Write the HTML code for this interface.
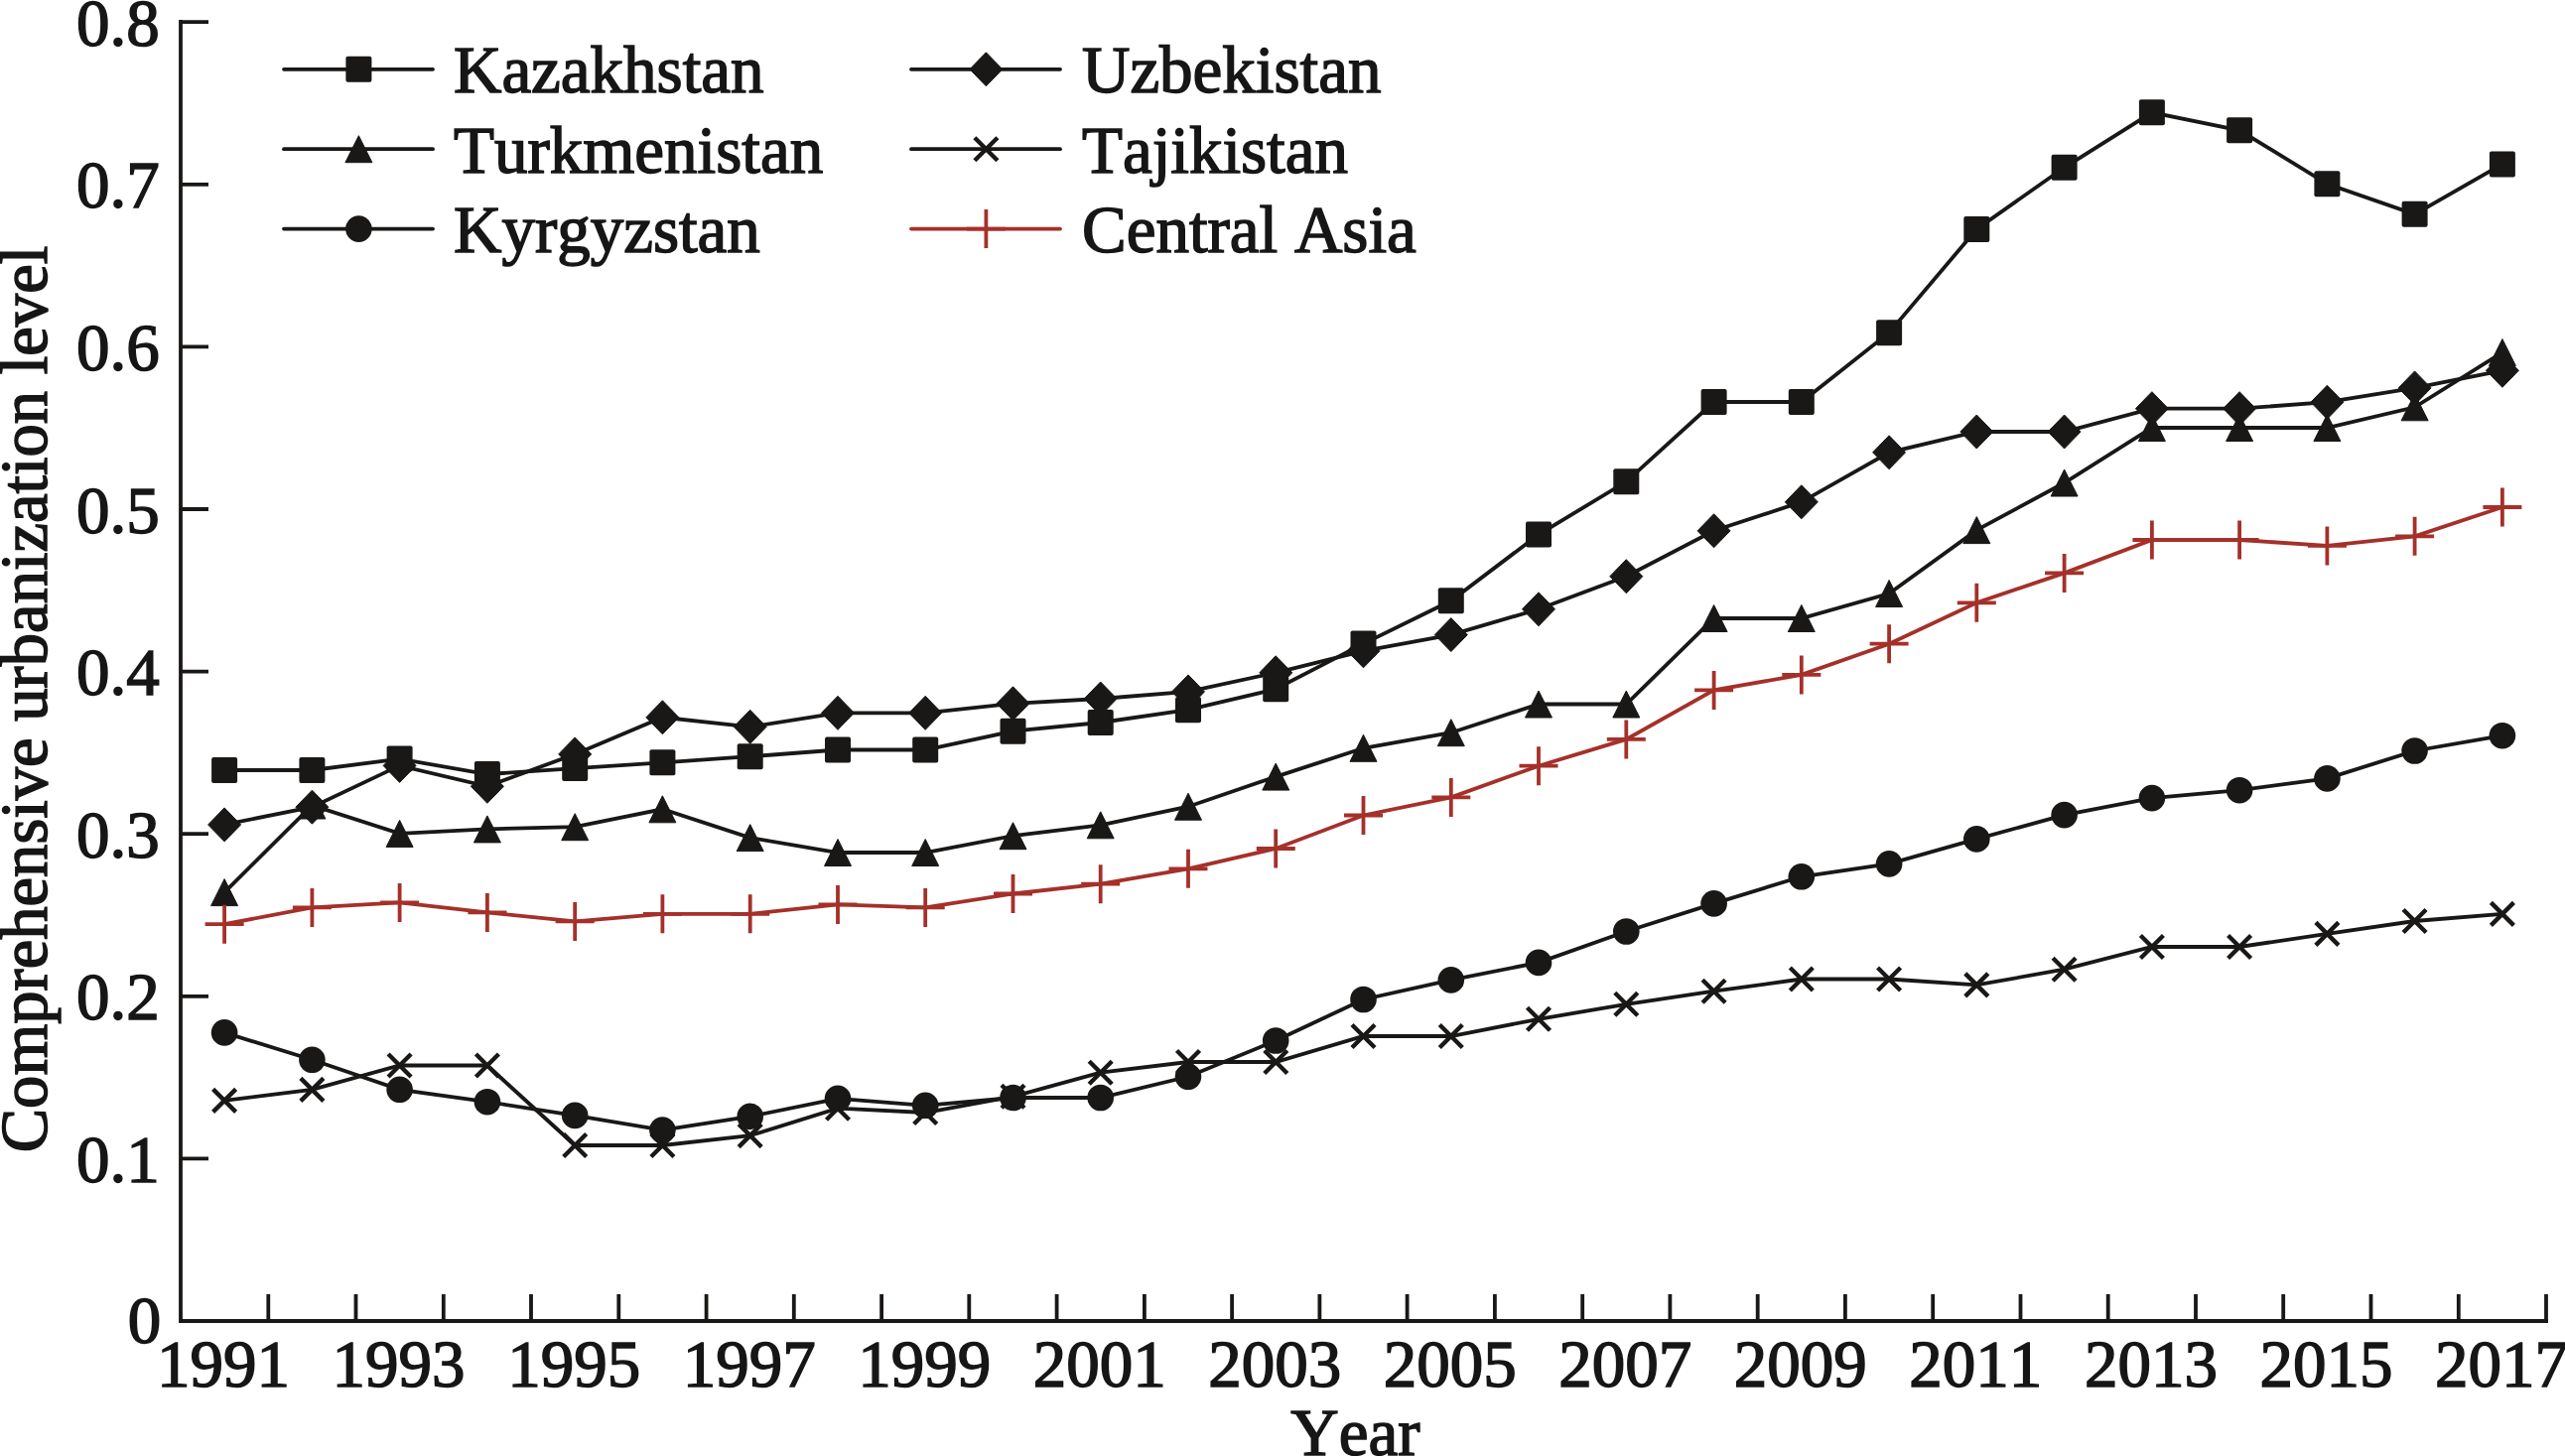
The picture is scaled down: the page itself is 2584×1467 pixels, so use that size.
<!DOCTYPE html>
<html><head><meta charset="utf-8"><style>
html,body{margin:0;padding:0;background:#fff;width:2584px;height:1467px;overflow:hidden}
svg{display:block}
.t{font-family:"Liberation Serif",serif;font-size:67px;fill:#161616;stroke:#161616;stroke-width:1.5px;font-kerning:none}
</style></head><body>
<svg width="2584" height="1467" viewBox="0 0 2584 1467">
<rect width="2584" height="1467" fill="#fff"/>
<path d="M180.1 1331H2567M182 20V1333" stroke="#1a1816" stroke-width="3.8" fill="none"/>
<path d="M182 1167.4H210M182 1003.8H210M182 840.2H210M182 676.6H210M182 513.0H210M182 349.4H210M182 185.8H210M182 22.2H210M270.3 1331V1304M358.5 1331V1304M446.8 1331V1304M535.0 1331V1304M623.3 1331V1304M711.6 1331V1304M799.8 1331V1304M888.1 1331V1304M976.3 1331V1304M1064.6 1331V1304M1152.9 1331V1304M1241.1 1331V1304M1329.4 1331V1304M1417.6 1331V1304M1505.9 1331V1304M1594.2 1331V1304M1682.4 1331V1304M1770.7 1331V1304M1858.9 1331V1304M1947.2 1331V1304M2035.5 1331V1304M2123.7 1331V1304M2212.0 1331V1304M2300.2 1331V1304M2388.5 1331V1304M2476.8 1331V1304M2565.0 1331V1304" stroke="#1a1816" stroke-width="3.8" fill="none"/>
<text x="162.3" y="1353.0" text-anchor="end" class="t">0</text>
<text x="160.8" y="1190.9" text-anchor="end" class="t">0.1</text>
<text x="160.8" y="1027.3" text-anchor="end" class="t">0.2</text>
<text x="160.8" y="863.7" text-anchor="end" class="t">0.3</text>
<text x="160.8" y="700.1" text-anchor="end" class="t">0.4</text>
<text x="160.8" y="536.5" text-anchor="end" class="t">0.5</text>
<text x="160.8" y="372.9" text-anchor="end" class="t">0.6</text>
<text x="160.8" y="209.3" text-anchor="end" class="t">0.7</text>
<text x="160.8" y="45.7" text-anchor="end" class="t">0.8</text>
<text x="225.1" y="1397" text-anchor="middle" class="t">1991</text>
<text x="401.6" y="1397" text-anchor="middle" class="t">1993</text>
<text x="578.2" y="1397" text-anchor="middle" class="t">1995</text>
<text x="754.7" y="1397" text-anchor="middle" class="t">1997</text>
<text x="931.2" y="1397" text-anchor="middle" class="t">1999</text>
<text x="1107.7" y="1397" text-anchor="middle" class="t">2001</text>
<text x="1284.2" y="1397" text-anchor="middle" class="t">2003</text>
<text x="1460.8" y="1397" text-anchor="middle" class="t">2005</text>
<text x="1637.3" y="1397" text-anchor="middle" class="t">2007</text>
<text x="1813.8" y="1397" text-anchor="middle" class="t">2009</text>
<text x="1990.3" y="1397" text-anchor="middle" class="t">2011</text>
<text x="2166.9" y="1397" text-anchor="middle" class="t">2013</text>
<text x="2343.4" y="1397" text-anchor="middle" class="t">2015</text>
<text x="2519.9" y="1397" text-anchor="middle" class="t">2017</text>
<text x="1300.3" y="1465.8" class="t">Year</text>
<text transform="translate(47,1161.3) rotate(-90)" class="t" style="font-size:66.6px">Comprehensive urbanization level</text>
<polyline points="226.1,776.0 314.4,776.0 402.6,764.6 490.9,780.0 579.2,774.1 667.4,768.3 755.7,762.2 844.0,755.5 932.2,755.5 1020.5,736.7 1108.7,728.0 1197.0,715.2 1285.2,694.3 1373.5,648.6 1461.8,605.3 1550.0,538.6 1638.3,485.3 1726.6,405.0 1814.8,405.0 1903.1,335.2 1991.3,230.9 2079.6,168.8 2167.9,113.3 2256.1,131.3 2344.4,185.3 2432.6,215.8 2520.9,165.4" fill="none" stroke="#1a1816" stroke-width="3.8" stroke-linejoin="miter"/>
<polyline points="226.1,830.9 314.4,813.2 402.6,771.4 490.9,792.3 579.2,759.9 667.4,722.8 755.7,732.3 844.0,718.3 932.2,718.3 1020.5,708.8 1108.7,704.0 1197.0,696.9 1285.2,677.8 1373.5,655.8 1461.8,639.6 1550.0,613.8 1638.3,580.7 1726.6,534.8 1814.8,505.8 1903.1,455.8 1991.3,435.0 2079.6,435.0 2167.9,411.7 2256.1,411.7 2344.4,405.2 2432.6,390.9 2520.9,373.3" fill="none" stroke="#1a1816" stroke-width="3.8" stroke-linejoin="miter"/>
<polyline points="226.1,899.1 314.4,811.5 402.6,839.9 490.9,835.4 579.2,833.2 667.4,815.3 755.7,844.1 844.0,859.0 932.2,859.0 1020.5,842.2 1108.7,831.3 1197.0,812.7 1285.2,782.6 1373.5,753.8 1461.8,738.2 1550.0,709.5 1638.3,709.5 1726.6,623.0 1814.8,623.0 1903.1,598.0 1991.3,534.1 2079.6,486.5 2167.9,431.0 2256.1,431.0 2344.4,431.0 2432.6,410.3 2520.9,355.1" fill="none" stroke="#1a1816" stroke-width="3.8" stroke-linejoin="miter"/>
<polyline points="226.1,1108.9 314.4,1097.9 402.6,1073.5 490.9,1073.5 579.2,1154.0 667.4,1154.0 755.7,1144.1 844.0,1116.7 932.2,1121.0 1020.5,1104.8 1108.7,1080.7 1197.0,1070.0 1285.2,1070.0 1373.5,1044.0 1461.8,1044.0 1550.0,1026.8 1638.3,1011.8 1726.6,998.7 1814.8,986.5 1903.1,986.5 1991.3,992.4 2079.6,976.7 2167.9,954.0 2256.1,954.0 2344.4,940.9 2432.6,928.0 2520.9,920.9" fill="none" stroke="#1a1816" stroke-width="3.8" stroke-linejoin="miter"/>
<polyline points="226.1,1040.4 314.4,1067.8 402.6,1097.8 490.9,1110.2 579.2,1123.9 667.4,1138.6 755.7,1124.9 844.0,1106.9 932.2,1113.8 1020.5,1106.0 1108.7,1106.0 1197.0,1084.8 1285.2,1048.5 1373.5,1007.0 1461.8,987.4 1550.0,969.9 1638.3,938.5 1726.6,910.4 1814.8,883.3 1903.1,870.4 1991.3,845.4 2079.6,821.1 2167.9,804.1 2256.1,796.2 2344.4,784.4 2432.6,756.5 2520.9,741.2" fill="none" stroke="#1a1816" stroke-width="3.8" stroke-linejoin="miter"/>
<polyline points="226.1,931.2 314.4,914.4 402.6,909.4 490.9,919.4 579.2,928.4 667.4,920.8 755.7,920.8 844.0,911.4 932.2,914.4 1020.5,900.5 1108.7,890.7 1197.0,875.3 1285.2,855.0 1373.5,821.5 1461.8,803.4 1550.0,771.7 1638.3,744.9 1726.6,695.4 1814.8,679.9 1903.1,648.7 1991.3,607.3 2079.6,577.4 2167.9,544.0 2256.1,544.0 2344.4,549.9 2432.6,540.3 2520.9,511.0" fill="none" stroke="#a5302a" stroke-width="3.8" stroke-linejoin="miter"/>
<rect x="213.1" y="763.0" width="26" height="26" rx="2" fill="#1a1816"/>
<rect x="301.4" y="763.0" width="26" height="26" rx="2" fill="#1a1816"/>
<rect x="389.6" y="751.6" width="26" height="26" rx="2" fill="#1a1816"/>
<rect x="477.9" y="767.0" width="26" height="26" rx="2" fill="#1a1816"/>
<rect x="566.2" y="761.1" width="26" height="26" rx="2" fill="#1a1816"/>
<rect x="654.4" y="755.3" width="26" height="26" rx="2" fill="#1a1816"/>
<rect x="742.7" y="749.2" width="26" height="26" rx="2" fill="#1a1816"/>
<rect x="831.0" y="742.5" width="26" height="26" rx="2" fill="#1a1816"/>
<rect x="919.2" y="742.5" width="26" height="26" rx="2" fill="#1a1816"/>
<rect x="1007.5" y="723.7" width="26" height="26" rx="2" fill="#1a1816"/>
<rect x="1095.7" y="715.0" width="26" height="26" rx="2" fill="#1a1816"/>
<rect x="1184.0" y="702.2" width="26" height="26" rx="2" fill="#1a1816"/>
<rect x="1272.2" y="681.3" width="26" height="26" rx="2" fill="#1a1816"/>
<rect x="1360.5" y="635.6" width="26" height="26" rx="2" fill="#1a1816"/>
<rect x="1448.8" y="592.3" width="26" height="26" rx="2" fill="#1a1816"/>
<rect x="1537.0" y="525.6" width="26" height="26" rx="2" fill="#1a1816"/>
<rect x="1625.3" y="472.3" width="26" height="26" rx="2" fill="#1a1816"/>
<rect x="1713.6" y="392.0" width="26" height="26" rx="2" fill="#1a1816"/>
<rect x="1801.8" y="392.0" width="26" height="26" rx="2" fill="#1a1816"/>
<rect x="1890.1" y="322.2" width="26" height="26" rx="2" fill="#1a1816"/>
<rect x="1978.3" y="217.9" width="26" height="26" rx="2" fill="#1a1816"/>
<rect x="2066.6" y="155.8" width="26" height="26" rx="2" fill="#1a1816"/>
<rect x="2154.9" y="100.3" width="26" height="26" rx="2" fill="#1a1816"/>
<rect x="2243.1" y="118.3" width="26" height="26" rx="2" fill="#1a1816"/>
<rect x="2331.4" y="172.3" width="26" height="26" rx="2" fill="#1a1816"/>
<rect x="2419.6" y="202.8" width="26" height="26" rx="2" fill="#1a1816"/>
<rect x="2507.9" y="152.4" width="26" height="26" rx="2" fill="#1a1816"/>
<path d="M226.1 813.9L242.6 830.9L226.1 847.9L209.6 830.9Z" fill="#1a1816" stroke="#1a1816" stroke-width="1" stroke-linejoin="round"/>
<path d="M314.4 796.2L330.9 813.2L314.4 830.2L297.9 813.2Z" fill="#1a1816" stroke="#1a1816" stroke-width="1" stroke-linejoin="round"/>
<path d="M402.6 754.4L419.1 771.4L402.6 788.4L386.1 771.4Z" fill="#1a1816" stroke="#1a1816" stroke-width="1" stroke-linejoin="round"/>
<path d="M490.9 775.3L507.4 792.3L490.9 809.3L474.4 792.3Z" fill="#1a1816" stroke="#1a1816" stroke-width="1" stroke-linejoin="round"/>
<path d="M579.2 742.9L595.7 759.9L579.2 776.9L562.7 759.9Z" fill="#1a1816" stroke="#1a1816" stroke-width="1" stroke-linejoin="round"/>
<path d="M667.4 705.8L683.9 722.8L667.4 739.8L650.9 722.8Z" fill="#1a1816" stroke="#1a1816" stroke-width="1" stroke-linejoin="round"/>
<path d="M755.7 715.3L772.2 732.3L755.7 749.3L739.2 732.3Z" fill="#1a1816" stroke="#1a1816" stroke-width="1" stroke-linejoin="round"/>
<path d="M844.0 701.3L860.5 718.3L844.0 735.3L827.5 718.3Z" fill="#1a1816" stroke="#1a1816" stroke-width="1" stroke-linejoin="round"/>
<path d="M932.2 701.3L948.7 718.3L932.2 735.3L915.7 718.3Z" fill="#1a1816" stroke="#1a1816" stroke-width="1" stroke-linejoin="round"/>
<path d="M1020.5 691.8L1037.0 708.8L1020.5 725.8L1004.0 708.8Z" fill="#1a1816" stroke="#1a1816" stroke-width="1" stroke-linejoin="round"/>
<path d="M1108.7 687.0L1125.2 704.0L1108.7 721.0L1092.2 704.0Z" fill="#1a1816" stroke="#1a1816" stroke-width="1" stroke-linejoin="round"/>
<path d="M1197.0 679.9L1213.5 696.9L1197.0 713.9L1180.5 696.9Z" fill="#1a1816" stroke="#1a1816" stroke-width="1" stroke-linejoin="round"/>
<path d="M1285.2 660.8L1301.8 677.8L1285.2 694.8L1268.8 677.8Z" fill="#1a1816" stroke="#1a1816" stroke-width="1" stroke-linejoin="round"/>
<path d="M1373.5 638.8L1390.0 655.8L1373.5 672.8L1357.0 655.8Z" fill="#1a1816" stroke="#1a1816" stroke-width="1" stroke-linejoin="round"/>
<path d="M1461.8 622.6L1478.3 639.6L1461.8 656.6L1445.3 639.6Z" fill="#1a1816" stroke="#1a1816" stroke-width="1" stroke-linejoin="round"/>
<path d="M1550.0 596.8L1566.5 613.8L1550.0 630.8L1533.5 613.8Z" fill="#1a1816" stroke="#1a1816" stroke-width="1" stroke-linejoin="round"/>
<path d="M1638.3 563.7L1654.8 580.7L1638.3 597.7L1621.8 580.7Z" fill="#1a1816" stroke="#1a1816" stroke-width="1" stroke-linejoin="round"/>
<path d="M1726.6 517.8L1743.1 534.8L1726.6 551.8L1710.1 534.8Z" fill="#1a1816" stroke="#1a1816" stroke-width="1" stroke-linejoin="round"/>
<path d="M1814.8 488.8L1831.3 505.8L1814.8 522.8L1798.3 505.8Z" fill="#1a1816" stroke="#1a1816" stroke-width="1" stroke-linejoin="round"/>
<path d="M1903.1 438.8L1919.6 455.8L1903.1 472.8L1886.6 455.8Z" fill="#1a1816" stroke="#1a1816" stroke-width="1" stroke-linejoin="round"/>
<path d="M1991.3 418.0L2007.8 435.0L1991.3 452.0L1974.8 435.0Z" fill="#1a1816" stroke="#1a1816" stroke-width="1" stroke-linejoin="round"/>
<path d="M2079.6 418.0L2096.1 435.0L2079.6 452.0L2063.1 435.0Z" fill="#1a1816" stroke="#1a1816" stroke-width="1" stroke-linejoin="round"/>
<path d="M2167.9 394.7L2184.4 411.7L2167.9 428.7L2151.4 411.7Z" fill="#1a1816" stroke="#1a1816" stroke-width="1" stroke-linejoin="round"/>
<path d="M2256.1 394.7L2272.6 411.7L2256.1 428.7L2239.6 411.7Z" fill="#1a1816" stroke="#1a1816" stroke-width="1" stroke-linejoin="round"/>
<path d="M2344.4 388.2L2360.9 405.2L2344.4 422.2L2327.9 405.2Z" fill="#1a1816" stroke="#1a1816" stroke-width="1" stroke-linejoin="round"/>
<path d="M2432.6 373.9L2449.1 390.9L2432.6 407.9L2416.1 390.9Z" fill="#1a1816" stroke="#1a1816" stroke-width="1" stroke-linejoin="round"/>
<path d="M2520.9 356.3L2537.4 373.3L2520.9 390.3L2504.4 373.3Z" fill="#1a1816" stroke="#1a1816" stroke-width="1" stroke-linejoin="round"/>
<path d="M226.1 885.6L239.6 912.6L212.6 912.6Z" fill="#1a1816" stroke="#1a1816" stroke-width="1" stroke-linejoin="round"/>
<path d="M314.4 798.0L327.9 825.0L300.9 825.0Z" fill="#1a1816" stroke="#1a1816" stroke-width="1" stroke-linejoin="round"/>
<path d="M402.6 826.4L416.1 853.4L389.1 853.4Z" fill="#1a1816" stroke="#1a1816" stroke-width="1" stroke-linejoin="round"/>
<path d="M490.9 821.9L504.4 848.9L477.4 848.9Z" fill="#1a1816" stroke="#1a1816" stroke-width="1" stroke-linejoin="round"/>
<path d="M579.2 819.7L592.7 846.7L565.7 846.7Z" fill="#1a1816" stroke="#1a1816" stroke-width="1" stroke-linejoin="round"/>
<path d="M667.4 801.8L680.9 828.8L653.9 828.8Z" fill="#1a1816" stroke="#1a1816" stroke-width="1" stroke-linejoin="round"/>
<path d="M755.7 830.6L769.2 857.6L742.2 857.6Z" fill="#1a1816" stroke="#1a1816" stroke-width="1" stroke-linejoin="round"/>
<path d="M844.0 845.5L857.5 872.5L830.5 872.5Z" fill="#1a1816" stroke="#1a1816" stroke-width="1" stroke-linejoin="round"/>
<path d="M932.2 845.5L945.7 872.5L918.7 872.5Z" fill="#1a1816" stroke="#1a1816" stroke-width="1" stroke-linejoin="round"/>
<path d="M1020.5 828.7L1034.0 855.7L1007.0 855.7Z" fill="#1a1816" stroke="#1a1816" stroke-width="1" stroke-linejoin="round"/>
<path d="M1108.7 817.8L1122.2 844.8L1095.2 844.8Z" fill="#1a1816" stroke="#1a1816" stroke-width="1" stroke-linejoin="round"/>
<path d="M1197.0 799.2L1210.5 826.2L1183.5 826.2Z" fill="#1a1816" stroke="#1a1816" stroke-width="1" stroke-linejoin="round"/>
<path d="M1285.2 769.1L1298.8 796.1L1271.8 796.1Z" fill="#1a1816" stroke="#1a1816" stroke-width="1" stroke-linejoin="round"/>
<path d="M1373.5 740.3L1387.0 767.3L1360.0 767.3Z" fill="#1a1816" stroke="#1a1816" stroke-width="1" stroke-linejoin="round"/>
<path d="M1461.8 724.7L1475.3 751.7L1448.3 751.7Z" fill="#1a1816" stroke="#1a1816" stroke-width="1" stroke-linejoin="round"/>
<path d="M1550.0 696.0L1563.5 723.0L1536.5 723.0Z" fill="#1a1816" stroke="#1a1816" stroke-width="1" stroke-linejoin="round"/>
<path d="M1638.3 696.0L1651.8 723.0L1624.8 723.0Z" fill="#1a1816" stroke="#1a1816" stroke-width="1" stroke-linejoin="round"/>
<path d="M1726.6 609.5L1740.1 636.5L1713.1 636.5Z" fill="#1a1816" stroke="#1a1816" stroke-width="1" stroke-linejoin="round"/>
<path d="M1814.8 609.5L1828.3 636.5L1801.3 636.5Z" fill="#1a1816" stroke="#1a1816" stroke-width="1" stroke-linejoin="round"/>
<path d="M1903.1 584.5L1916.6 611.5L1889.6 611.5Z" fill="#1a1816" stroke="#1a1816" stroke-width="1" stroke-linejoin="round"/>
<path d="M1991.3 520.6L2004.8 547.6L1977.8 547.6Z" fill="#1a1816" stroke="#1a1816" stroke-width="1" stroke-linejoin="round"/>
<path d="M2079.6 473.0L2093.1 500.0L2066.1 500.0Z" fill="#1a1816" stroke="#1a1816" stroke-width="1" stroke-linejoin="round"/>
<path d="M2167.9 417.5L2181.4 444.5L2154.4 444.5Z" fill="#1a1816" stroke="#1a1816" stroke-width="1" stroke-linejoin="round"/>
<path d="M2256.1 417.5L2269.6 444.5L2242.6 444.5Z" fill="#1a1816" stroke="#1a1816" stroke-width="1" stroke-linejoin="round"/>
<path d="M2344.4 417.5L2357.9 444.5L2330.9 444.5Z" fill="#1a1816" stroke="#1a1816" stroke-width="1" stroke-linejoin="round"/>
<path d="M2432.6 396.8L2446.1 423.8L2419.1 423.8Z" fill="#1a1816" stroke="#1a1816" stroke-width="1" stroke-linejoin="round"/>
<path d="M2520.9 341.6L2534.4 368.6L2507.4 368.6Z" fill="#1a1816" stroke="#1a1816" stroke-width="1" stroke-linejoin="round"/>
<path d="M214.6 1097.4L237.6 1120.4M214.6 1120.4L237.6 1097.4" stroke="#1a1816" stroke-width="4.4" fill="none"/>
<path d="M302.9 1086.4L325.9 1109.4M302.9 1109.4L325.9 1086.4" stroke="#1a1816" stroke-width="4.4" fill="none"/>
<path d="M391.1 1062.0L414.1 1085.0M391.1 1085.0L414.1 1062.0" stroke="#1a1816" stroke-width="4.4" fill="none"/>
<path d="M479.4 1062.0L502.4 1085.0M479.4 1085.0L502.4 1062.0" stroke="#1a1816" stroke-width="4.4" fill="none"/>
<path d="M567.7 1142.5L590.7 1165.5M567.7 1165.5L590.7 1142.5" stroke="#1a1816" stroke-width="4.4" fill="none"/>
<path d="M655.9 1142.5L678.9 1165.5M655.9 1165.5L678.9 1142.5" stroke="#1a1816" stroke-width="4.4" fill="none"/>
<path d="M744.2 1132.6L767.2 1155.6M744.2 1155.6L767.2 1132.6" stroke="#1a1816" stroke-width="4.4" fill="none"/>
<path d="M832.5 1105.2L855.5 1128.2M832.5 1128.2L855.5 1105.2" stroke="#1a1816" stroke-width="4.4" fill="none"/>
<path d="M920.7 1109.5L943.7 1132.5M920.7 1132.5L943.7 1109.5" stroke="#1a1816" stroke-width="4.4" fill="none"/>
<path d="M1009.0 1093.3L1032.0 1116.3M1009.0 1116.3L1032.0 1093.3" stroke="#1a1816" stroke-width="4.4" fill="none"/>
<path d="M1097.2 1069.2L1120.2 1092.2M1097.2 1092.2L1120.2 1069.2" stroke="#1a1816" stroke-width="4.4" fill="none"/>
<path d="M1185.5 1058.5L1208.5 1081.5M1185.5 1081.5L1208.5 1058.5" stroke="#1a1816" stroke-width="4.4" fill="none"/>
<path d="M1273.8 1058.5L1296.8 1081.5M1273.8 1081.5L1296.8 1058.5" stroke="#1a1816" stroke-width="4.4" fill="none"/>
<path d="M1362.0 1032.5L1385.0 1055.5M1362.0 1055.5L1385.0 1032.5" stroke="#1a1816" stroke-width="4.4" fill="none"/>
<path d="M1450.3 1032.5L1473.3 1055.5M1450.3 1055.5L1473.3 1032.5" stroke="#1a1816" stroke-width="4.4" fill="none"/>
<path d="M1538.5 1015.3L1561.5 1038.3M1538.5 1038.3L1561.5 1015.3" stroke="#1a1816" stroke-width="4.4" fill="none"/>
<path d="M1626.8 1000.3L1649.8 1023.3M1626.8 1023.3L1649.8 1000.3" stroke="#1a1816" stroke-width="4.4" fill="none"/>
<path d="M1715.1 987.2L1738.1 1010.2M1715.1 1010.2L1738.1 987.2" stroke="#1a1816" stroke-width="4.4" fill="none"/>
<path d="M1803.3 975.0L1826.3 998.0M1803.3 998.0L1826.3 975.0" stroke="#1a1816" stroke-width="4.4" fill="none"/>
<path d="M1891.6 975.0L1914.6 998.0M1891.6 998.0L1914.6 975.0" stroke="#1a1816" stroke-width="4.4" fill="none"/>
<path d="M1979.8 980.9L2002.8 1003.9M1979.8 1003.9L2002.8 980.9" stroke="#1a1816" stroke-width="4.4" fill="none"/>
<path d="M2068.1 965.2L2091.1 988.2M2068.1 988.2L2091.1 965.2" stroke="#1a1816" stroke-width="4.4" fill="none"/>
<path d="M2156.4 942.5L2179.4 965.5M2156.4 965.5L2179.4 942.5" stroke="#1a1816" stroke-width="4.4" fill="none"/>
<path d="M2244.6 942.5L2267.6 965.5M2244.6 965.5L2267.6 942.5" stroke="#1a1816" stroke-width="4.4" fill="none"/>
<path d="M2332.9 929.4L2355.9 952.4M2332.9 952.4L2355.9 929.4" stroke="#1a1816" stroke-width="4.4" fill="none"/>
<path d="M2421.1 916.5L2444.1 939.5M2421.1 939.5L2444.1 916.5" stroke="#1a1816" stroke-width="4.4" fill="none"/>
<path d="M2509.4 909.4L2532.4 932.4M2509.4 932.4L2532.4 909.4" stroke="#1a1816" stroke-width="4.4" fill="none"/>
<circle cx="226.1" cy="1040.4" r="13.3" fill="#1a1816"/>
<circle cx="314.4" cy="1067.8" r="13.3" fill="#1a1816"/>
<circle cx="402.6" cy="1097.8" r="13.3" fill="#1a1816"/>
<circle cx="490.9" cy="1110.2" r="13.3" fill="#1a1816"/>
<circle cx="579.2" cy="1123.9" r="13.3" fill="#1a1816"/>
<circle cx="667.4" cy="1138.6" r="13.3" fill="#1a1816"/>
<circle cx="755.7" cy="1124.9" r="13.3" fill="#1a1816"/>
<circle cx="844.0" cy="1106.9" r="13.3" fill="#1a1816"/>
<circle cx="932.2" cy="1113.8" r="13.3" fill="#1a1816"/>
<circle cx="1020.5" cy="1106.0" r="13.3" fill="#1a1816"/>
<circle cx="1108.7" cy="1106.0" r="13.3" fill="#1a1816"/>
<circle cx="1197.0" cy="1084.8" r="13.3" fill="#1a1816"/>
<circle cx="1285.2" cy="1048.5" r="13.3" fill="#1a1816"/>
<circle cx="1373.5" cy="1007.0" r="13.3" fill="#1a1816"/>
<circle cx="1461.8" cy="987.4" r="13.3" fill="#1a1816"/>
<circle cx="1550.0" cy="969.9" r="13.3" fill="#1a1816"/>
<circle cx="1638.3" cy="938.5" r="13.3" fill="#1a1816"/>
<circle cx="1726.6" cy="910.4" r="13.3" fill="#1a1816"/>
<circle cx="1814.8" cy="883.3" r="13.3" fill="#1a1816"/>
<circle cx="1903.1" cy="870.4" r="13.3" fill="#1a1816"/>
<circle cx="1991.3" cy="845.4" r="13.3" fill="#1a1816"/>
<circle cx="2079.6" cy="821.1" r="13.3" fill="#1a1816"/>
<circle cx="2167.9" cy="804.1" r="13.3" fill="#1a1816"/>
<circle cx="2256.1" cy="796.2" r="13.3" fill="#1a1816"/>
<circle cx="2344.4" cy="784.4" r="13.3" fill="#1a1816"/>
<circle cx="2432.6" cy="756.5" r="13.3" fill="#1a1816"/>
<circle cx="2520.9" cy="741.2" r="13.3" fill="#1a1816"/>
<path d="M206.6 931.2H245.6M226.1 911.7V950.7" stroke="#a5302a" stroke-width="3.8" fill="none"/>
<path d="M294.9 914.4H333.9M314.4 894.9V933.9" stroke="#a5302a" stroke-width="3.8" fill="none"/>
<path d="M383.1 909.4H422.1M402.6 889.9V928.9" stroke="#a5302a" stroke-width="3.8" fill="none"/>
<path d="M471.4 919.4H510.4M490.9 899.9V938.9" stroke="#a5302a" stroke-width="3.8" fill="none"/>
<path d="M559.7 928.4H598.7M579.2 908.9V947.9" stroke="#a5302a" stroke-width="3.8" fill="none"/>
<path d="M647.9 920.8H686.9M667.4 901.3V940.3" stroke="#a5302a" stroke-width="3.8" fill="none"/>
<path d="M736.2 920.8H775.2M755.7 901.3V940.3" stroke="#a5302a" stroke-width="3.8" fill="none"/>
<path d="M824.5 911.4H863.5M844.0 891.9V930.9" stroke="#a5302a" stroke-width="3.8" fill="none"/>
<path d="M912.7 914.4H951.7M932.2 894.9V933.9" stroke="#a5302a" stroke-width="3.8" fill="none"/>
<path d="M1001.0 900.5H1040.0M1020.5 881.0V920.0" stroke="#a5302a" stroke-width="3.8" fill="none"/>
<path d="M1089.2 890.7H1128.2M1108.7 871.2V910.2" stroke="#a5302a" stroke-width="3.8" fill="none"/>
<path d="M1177.5 875.3H1216.5M1197.0 855.8V894.8" stroke="#a5302a" stroke-width="3.8" fill="none"/>
<path d="M1265.8 855.0H1304.8M1285.2 835.5V874.5" stroke="#a5302a" stroke-width="3.8" fill="none"/>
<path d="M1354.0 821.5H1393.0M1373.5 802.0V841.0" stroke="#a5302a" stroke-width="3.8" fill="none"/>
<path d="M1442.3 803.4H1481.3M1461.8 783.9V822.9" stroke="#a5302a" stroke-width="3.8" fill="none"/>
<path d="M1530.5 771.7H1569.5M1550.0 752.2V791.2" stroke="#a5302a" stroke-width="3.8" fill="none"/>
<path d="M1618.8 744.9H1657.8M1638.3 725.4V764.4" stroke="#a5302a" stroke-width="3.8" fill="none"/>
<path d="M1707.1 695.4H1746.1M1726.6 675.9V714.9" stroke="#a5302a" stroke-width="3.8" fill="none"/>
<path d="M1795.3 679.9H1834.3M1814.8 660.4V699.4" stroke="#a5302a" stroke-width="3.8" fill="none"/>
<path d="M1883.6 648.7H1922.6M1903.1 629.2V668.2" stroke="#a5302a" stroke-width="3.8" fill="none"/>
<path d="M1971.8 607.3H2010.8M1991.3 587.8V626.8" stroke="#a5302a" stroke-width="3.8" fill="none"/>
<path d="M2060.1 577.4H2099.1M2079.6 557.9V596.9" stroke="#a5302a" stroke-width="3.8" fill="none"/>
<path d="M2148.4 544.0H2187.4M2167.9 524.5V563.5" stroke="#a5302a" stroke-width="3.8" fill="none"/>
<path d="M2236.6 544.0H2275.6M2256.1 524.5V563.5" stroke="#a5302a" stroke-width="3.8" fill="none"/>
<path d="M2324.9 549.9H2363.9M2344.4 530.4V569.4" stroke="#a5302a" stroke-width="3.8" fill="none"/>
<path d="M2413.1 540.3H2452.1M2432.6 520.8V559.8" stroke="#a5302a" stroke-width="3.8" fill="none"/>
<path d="M2501.4 511.0H2540.4M2520.9 491.5V530.5" stroke="#a5302a" stroke-width="3.8" fill="none"/>
<path d="M286 69.8H436" stroke="#1a1816" stroke-width="3.8" stroke-linecap="round"/>
<rect x="348.4" y="56.8" width="26" height="26" rx="2" fill="#1a1816"/>
<text x="457" y="93.3" class="t">Kazakhstan</text>
<path d="M286 150.2H436" stroke="#1a1816" stroke-width="3.8" stroke-linecap="round"/>
<path d="M361.4 136.7L374.9 163.7L347.9 163.7Z" fill="#1a1816" stroke="#1a1816" stroke-width="1" stroke-linejoin="round"/>
<text x="457" y="173.7" class="t">Turkmenistan</text>
<path d="M286 230.6H436" stroke="#1a1816" stroke-width="3.8" stroke-linecap="round"/>
<circle cx="361.4" cy="230.6" r="13.3" fill="#1a1816"/>
<text x="457" y="254.1" class="t">Kyrgyzstan</text>
<path d="M918 69.8H1068" stroke="#1a1816" stroke-width="3.8" stroke-linecap="round"/>
<path d="M993.4 52.8L1009.9 69.8L993.4 86.8L976.9 69.8Z" fill="#1a1816" stroke="#1a1816" stroke-width="1" stroke-linejoin="round"/>
<text x="1090" y="93.3" class="t">Uzbekistan</text>
<path d="M918 150.2H1068" stroke="#1a1816" stroke-width="3.8" stroke-linecap="round"/>
<path d="M981.9 138.7L1004.9 161.7M981.9 161.7L1004.9 138.7" stroke="#1a1816" stroke-width="4.4" fill="none"/>
<text x="1090" y="173.7" class="t">Tajikistan</text>
<path d="M918 230.6H1068" stroke="#a5302a" stroke-width="3.8" stroke-linecap="round"/>
<path d="M973.9 230.6H1012.9M993.4 211.1V250.1" stroke="#a5302a" stroke-width="3.8" fill="none"/>
<text x="1090" y="254.1" class="t">Central Asia</text>
</svg></body></html>
